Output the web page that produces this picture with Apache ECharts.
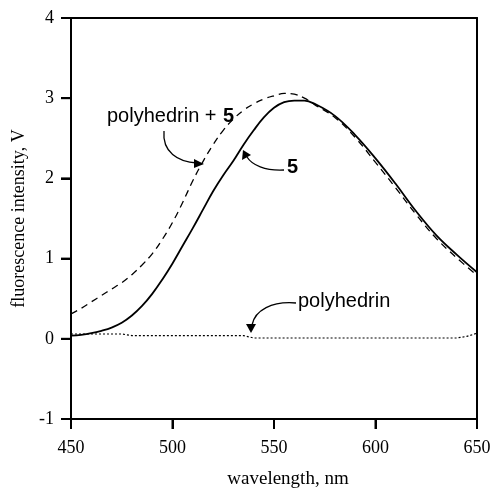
<!DOCTYPE html>
<html>
<head>
<meta charset="utf-8">
<script src="https://cdn.jsdelivr.net/npm/echarts@6/dist/echarts.min.js"></script>
<style>html,body{margin:0;padding:0;background:#fff}#c{width:492px;height:489px}</style>
</head>
<body>
<div id="c"></div>
<script>
// Data
var wlSolid = [450,455,460,465,470,475,480,485,490,495,500,505,510,515,520,525,530,535,540,545,550,555,560,565,570,580,590,600,610,620,630,640,650];
var valSolid = [0.04,0.05,0.07,0.10,0.14,0.20,0.29,0.41,0.56,0.74,0.94,1.16,1.38,1.61,1.84,2.04,2.22,2.42,2.60,2.76,2.88,2.95,2.97,2.97,2.93,2.78,2.54,2.25,1.93,1.59,1.29,1.05,0.83];
var wlDashed = [450,455,460,465,470,475,480,485,490,495,500,505,510,515,520,525,530,535,540,545,550,555,560,565,570,580,590,600,610,620,630,640,650];
var valDashed = [0.31,0.38,0.46,0.54,0.62,0.70,0.80,0.92,1.06,1.24,1.45,1.70,1.97,2.21,2.42,2.60,2.74,2.85,2.93,2.99,3.03,3.06,3.05,3.00,2.92,2.76,2.51,2.20,1.88,1.55,1.25,1.01,0.79];
var wlDotted = [450,475,480,535,540,640,645,650];
var valDotted = [0.06,0.06,0.04,0.04,0.01,0.01,0.03,0.07];
var xTicks = [450,500,550,600,650];
var yTicks = [-1,0,1,2,3,4];

function pairs(xs, ys){ return xs.map(function(x,i){ return [x, ys[i]]; }); }

var chart = echarts.init(document.getElementById('c'), null, {renderer:'canvas'});
var serif = 'Liberation Serif';
var xRange = {type:'value', min:xTicks[0], max:xTicks[xTicks.length-1], interval:50};
var yRange = {type:'value', min:yTicks[0], max:yTicks[yTicks.length-1], interval:1};
var frameAxis = {
  axisLine:{show:true, onZero:false, lineStyle:{color:'#000', width:2}},
  axisTick:{show:false}, axisLabel:{show:false}, splitLine:{show:false}
};
var annotations = [
  {type:'text', left:107, top:106, style:{text:'polyhedrin +', font:'20px "Liberation Sans"', fill:'#000'}},
  {type:'text', left:223, top:106, style:{text:'5', font:'bold 20px "Liberation Sans"', fill:'#000'}},
  {type:'text', left:287, top:157, style:{text:'5', font:'bold 20px "Liberation Sans"', fill:'#000'}},
  {type:'text', left:298, top:291, style:{text:'polyhedrin', font:'20px "Liberation Sans"', fill:'#000'}},
  {type:'bezierCurve', shape:{x1:164,y1:131,cpx1:162,cpy1:152,cpx2:178,cpy2:162,x2:197,y2:163},
   style:{stroke:'#000', lineWidth:1.3, fill:null}},
  {type:'polygon', shape:{points:[[204,164],[194,159],[194,168]]}, style:{fill:'#000'}},
  {type:'bezierCurve', shape:{x1:284,y1:170,cpx1:265,cpy1:171,cpx2:252,cpy2:165,x2:247,y2:157},
   style:{stroke:'#000', lineWidth:1.3, fill:null}},
  {type:'polygon', shape:{points:[[243,150],[242,160],[251,155]]}, style:{fill:'#000'}},
  {type:'bezierCurve', shape:{x1:296,y1:303,cpx1:272,cpy1:301,cpx2:255,cpy2:310,x2:252,y2:325},
   style:{stroke:'#000', lineWidth:1.3, fill:null}},
  {type:'polygon', shape:{points:[[251,333],[246,324],[256,324]]}, style:{fill:'#000'}}
];
var option = {
  animation: false,
  grid: {left:71, right:15, top:18, bottom:70, outerBoundsMode:'none'},
  xAxis: [Object.assign({}, xRange, {
    position:'bottom',
    axisLine:{show:true, onZero:false, lineStyle:{color:'#000', width:2}},
    axisTick:{show:true, length:10, lineStyle:{color:'#000', width:2}},
    axisLabel:{color:'#000', fontFamily:serif, fontSize:18, margin:20},
    splitLine:{show:false},
    name:'wavelength, nm', nameLocation:'middle', nameGap:51,
    nameTextStyle:{color:'#000', fontFamily:serif, fontSize:19, padding:[0,0,0,28]}
  }),
  Object.assign({}, xRange, {position:'top'}, frameAxis)],
  yAxis: [Object.assign({}, yRange, {
    position:'left',
    axisLine:{show:true, onZero:false, lineStyle:{color:'#000', width:2}},
    axisTick:{show:true, length:10, lineStyle:{color:'#000', width:2}},
    axisLabel:{color:'#000', fontFamily:serif, fontSize:18, margin:17},
    splitLine:{show:false},
    name:'fluorescence intensity, V', nameLocation:'middle', nameGap:29,
    nameTextStyle:{color:'#000', fontFamily:serif, fontSize:18}
  }),
  Object.assign({}, yRange, {position:'right'}, frameAxis)],
  series: [
    {type:'line', data:pairs(wlDashed, valDashed), smooth:0.4, symbol:'none',
     lineStyle:{color:'#000', width:1.3, type:[7,5]}},
    {type:'line', data:pairs(wlSolid, valSolid), smooth:0.4, symbol:'none',
     lineStyle:{color:'#000', width:1.8, type:'solid'}},
    {type:'line', data:pairs(wlDotted, valDotted), smooth:false, symbol:'none',
     lineStyle:{color:'#000', width:1.2, type:[2,2]}}
  ],
  graphic: annotations
};
chart.setOption(option);

// Outward tick marks, positioned through the chart's own scales (grid coordinates)
var tickEls = [];
xTicks.forEach(function(v){
  var p = chart.convertToPixel({gridIndex:0}, [v, yTicks[0]]);
  if (p && isFinite(p[0]) && isFinite(p[1])) {
    tickEls.push({type:'line', z:100, shape:{x1:p[0], y1:p[1], x2:p[0], y2:p[1] + 10},
      style:{stroke:'#000', lineWidth:2}});
  }
});
yTicks.forEach(function(v){
  var p = chart.convertToPixel({gridIndex:0}, [xTicks[0], v]);
  if (p && isFinite(p[0]) && isFinite(p[1])) {
    tickEls.push({type:'line', z:100, shape:{x1:p[0] - 10, y1:p[1], x2:p[0], y2:p[1]},
      style:{stroke:'#000', lineWidth:2}});
  }
});
chart.setOption({graphic: {elements: annotations.concat(tickEls)}});
</script>
</body>
</html>
